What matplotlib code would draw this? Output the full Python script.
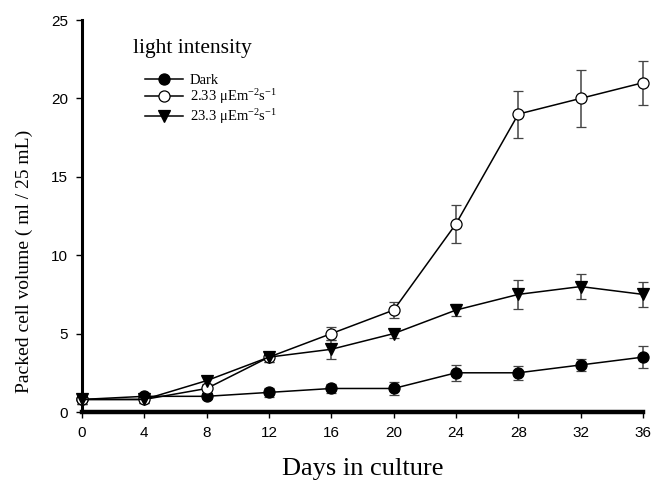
import numpy as np
import matplotlib.pyplot as plt

plt.rcParams['mathtext.fontset'] = 'custom'
plt.rcParams['mathtext.rm'] = 'Liberation Serif'
plt.rcParams['mathtext.it'] = 'Liberation Serif:italic'

#data
days = [0, 4, 8, 12, 16, 20, 24, 28, 32, 36]
dark = [0.8, 1.0, 1.0, 1.25, 1.5, 1.5, 2.5, 2.5, 3.0, 3.5]
dark_err = [0.3, 0.2, 0.2, 0.3, 0.3, 0.4, 0.5, 0.45, 0.4, 0.7]
low = [0.8, 0.8, 1.5, 3.5, 5.0, 6.5, 12.0, 19.0, 20.0, 21.0]
low_err = [0.3, 0.2, 0.3, 0.3, 0.4, 0.5, 1.2, 1.5, 1.8, 1.4]
high = [0.8, 0.8, 2.0, 3.5, 4.0, 5.0, 6.5, 7.5, 8.0, 7.5]
high_err = [0.3, 0.2, 0.3, 0.3, 0.6, 0.3, 0.4, 0.9, 0.8, 0.8]
labels = ['Dark', '2.33 μEm$^{-2}$s$^{-1}$', '23.3 μEm$^{-2}$s$^{-1}$']

fig = plt.figure(figsize=(6.51, 4.8), dpi=100)
ax = fig.add_axes([82/651, 68/480, (643-82)/651, (412-20)/480])

styles = [(dark, dark_err, 'o', 'black'),
          (low, low_err, 'o', 'white'),
          (high, high_err, 'v', 'black')]
handles = []
for (vals, err, mk, fc), lab in zip(styles, labels):
    c = ax.errorbar(days, vals, yerr=err, marker=mk, ms=8, mfc=fc, mec='black',
                    mew=0.9, color='black', lw=1.1, ecolor='#444444', elinewidth=1.1,
                    capsize=3.5, capthick=1.0, label=lab, clip_on=False, zorder=3)
    handles.append(c.lines[0])

ax.set_xlim(0, 36)
ax.set_ylim(0, 25)
ax.set_xticks(days)
ax.set_yticks([0, 5, 10, 15, 20, 25])
for s in ['top', 'right']:
    ax.spines[s].set_visible(False)
ax.spines['left'].set_linewidth(2.2)
ax.spines['bottom'].set_linewidth(3.2)
ax.tick_params(direction='out', length=4, width=1, labelsize=11, pad=6)
for t in ax.get_xticklabels() + ax.get_yticklabels():
    t.set_family('Liberation Sans')

ax.set_xlabel('Days in culture', family='Liberation Serif', fontsize=19)
ax.xaxis.set_label_coords(0.5, -0.118)
ax.set_ylabel('Packed cell volume ( ml / 25 mL)', family='Liberation Serif', fontsize=14)
ax.yaxis.set_label_coords(-0.087, 0.383)

# legend title drawn on its own, it sits left of the handles
fig.text(133/651, 1 - 48/480, 'light intensity', family='Liberation Serif',
         fontsize=15.5, va='center', ha='left')
leg = ax.legend(handles, labels, loc='upper left', bbox_to_anchor=(0.112, 0.862),
                frameon=False, prop={'family': 'Liberation Serif', 'size': 10.5},
                handlelength=2.6, handletextpad=0.5, labelspacing=0.02,
                borderaxespad=0, borderpad=0)

fig.savefig('out.png', dpi=100)
